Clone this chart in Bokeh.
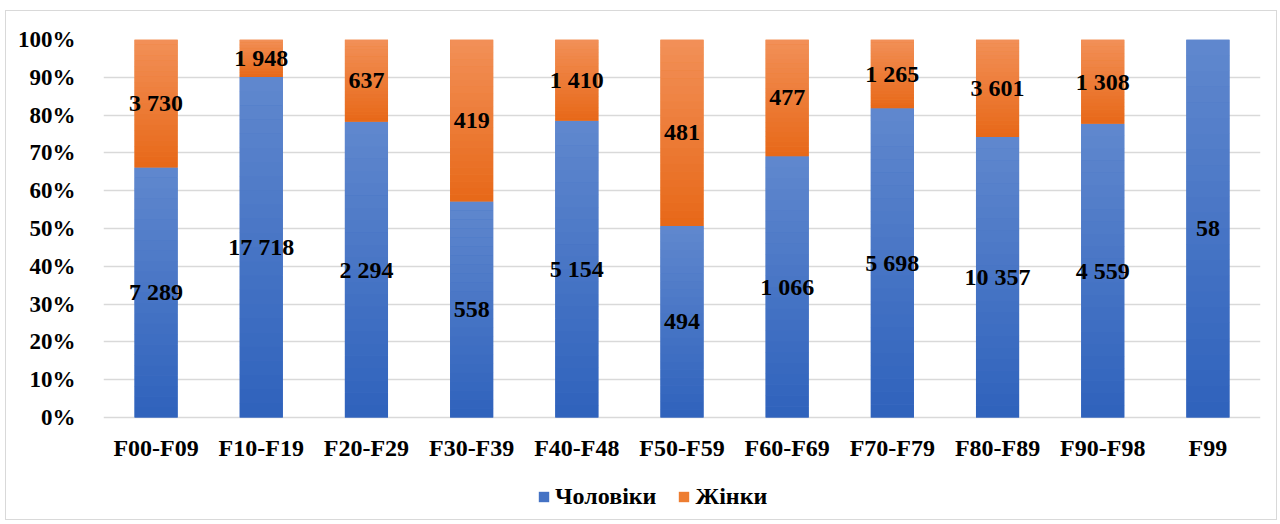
from bokeh.plotting import figure
from bokeh.models import ColumnDataSource, Range1d, FixedTicker, NumeralTickFormatter, Legend, LegendItem, LabelSet
from bokeh.embed import file_html
from bokeh.resources import INLINE

categories = ["F00-F09", "F10-F19", "F20-F29", "F30-F39", "F40-F48", "F50-F59",
              "F60-F69", "F70-F79", "F80-F89", "F90-F98", "F99"]
men = [7289, 17718, 2294, 558, 5154, 494, 1066, 5698, 10357, 4559, 58]
women = [3730, 1948, 637, 419, 1410, 481, 477, 1265, 3601, 1308, 0]
series_names = ["Чоловіки", "Жінки"]
y_ticks = [0, 0.1, 0.2, 0.3, 0.4, 0.5, 0.6, 0.7, 0.8, 0.9, 1.0]

FONT = "Liberation Serif"
BLUE_TOP, BLUE_BOT = (96, 136, 206), (47, 98, 188)
ORG_TOP, ORG_BOT = (242, 144, 88), (231, 104, 24)

totals = [m + w for m, w in zip(men, women)]
men_pct = [m / t for m, t in zip(men, totals)]
women_pct = [w / t for w, t in zip(women, totals)]

# frame: 476 px tall, of which 378 px hold 0..100 %; the rest holds category labels + legend
p = figure(x_range=categories, y_range=Range1d(-98 / 378, 1), width=1272, height=510,
           output_backend="svg", toolbar_location=None,
           min_border_left=97, min_border_right=18, min_border_top=28, min_border_bottom=6)
p.outline_line_color = None
p.styles = {"border": "1px solid #d9d9d9", "margin-left": "5px", "margin-top": "10px"}
p.xaxis.visible = False

src = ColumnDataSource(dict(cat=categories, men=men_pct, women=women_pct))
BAR_W = 0.41
rs = p.vbar_stack(["men", "women"], x="cat", width=BAR_W, source=src,
                  color=["#4472c4", "#ed7d31"], line_color=None)

# gradient shading of each segment (light top -> dark bottom)
def hexc(c):
    return "#%02x%02x%02x" % c

N = 24
bx, bb, bt, bc = [], [], [], []
for cat, mp, wp in zip(categories, men_pct, women_pct):
    for (lo, hi, top, bot) in [(0.0, mp, BLUE_TOP, BLUE_BOT), (mp, mp + wp, ORG_TOP, ORG_BOT)]:
        if hi - lo <= 0:
            continue
        for k in range(N):
            f0 = k / N
            f1 = (k + 1) / N
            t = (k + 0.5) / N
            col = tuple(int(round(bot[i] + (top[i] - bot[i]) * t)) for i in range(3))
            bx.append(cat)
            bb.append(lo + (hi - lo) * f0)
            bt.append(lo + (hi - lo) * f1 + (0.0005 if k < N - 1 else 0))
            bc.append(hexc(col))
p.vbar(x=bx, bottom=bb, top=bt, width=BAR_W, color=bc, line_color=None)

# value labels
lx, ly, lt = [], [], []
for cat, mp, wp, m, w in zip(categories, men_pct, women_pct, men, women):
    lx.append(cat); ly.append(mp / 2); lt.append(f"{m:,}".replace(",", " "))
    if w > 0:
        lx.append(cat); ly.append(mp + wp / 2); lt.append(f"{w:,}".replace(",", " "))
lsrc = ColumnDataSource(dict(x=lx, y=ly, t=lt))
p.add_layout(LabelSet(x="x", y="y", text="t", source=lsrc, text_align="center",
                      text_baseline="middle", text_font=FONT, text_font_style="bold",
                      text_font_size="24px", text_color="black"))

# category labels (x axis)
csrc = ColumnDataSource(dict(x=categories, y=[0] * len(categories), t=categories))
p.add_layout(LabelSet(x="x", y="y", text="t", source=csrc, y_offset=-30, text_align="center",
                      text_baseline="middle", text_font=FONT, text_font_style="bold",
                      text_font_size="24px", text_color="black"))

# y axis / grid
p.yaxis.ticker = FixedTicker(ticks=y_ticks)
p.yaxis.formatter = NumeralTickFormatter(format="0%")
p.yaxis.axis_line_color = None
p.yaxis.major_tick_line_color = None
p.yaxis.minor_tick_line_color = None
p.yaxis.major_label_text_font = FONT
p.yaxis.major_label_text_font_style = "bold"
p.yaxis.major_label_text_font_size = "23px"
p.yaxis.major_label_standoff = 22
p.yaxis.major_label_text_color = "black"

p.xgrid.grid_line_color = None
p.ygrid.grid_line_color = "#d9d9d9"
p.ygrid.grid_line_width = 1.5

legend = Legend(items=[LegendItem(label=series_names[0], renderers=[rs[0]]),
                       LegendItem(label=series_names[1], renderers=[rs[1]])],
                location=(434, 5), orientation="horizontal",
                label_text_font=FONT, label_text_font_style="bold", label_text_font_size="24px",
                label_text_color="black",
                glyph_width=13, glyph_height=13, spacing=21, padding=0, margin=0,
                border_line_color=None, background_fill_alpha=0, label_standoff=5)
p.add_layout(legend, "center")

open("out.html", "w").write(file_html(p, INLINE))
